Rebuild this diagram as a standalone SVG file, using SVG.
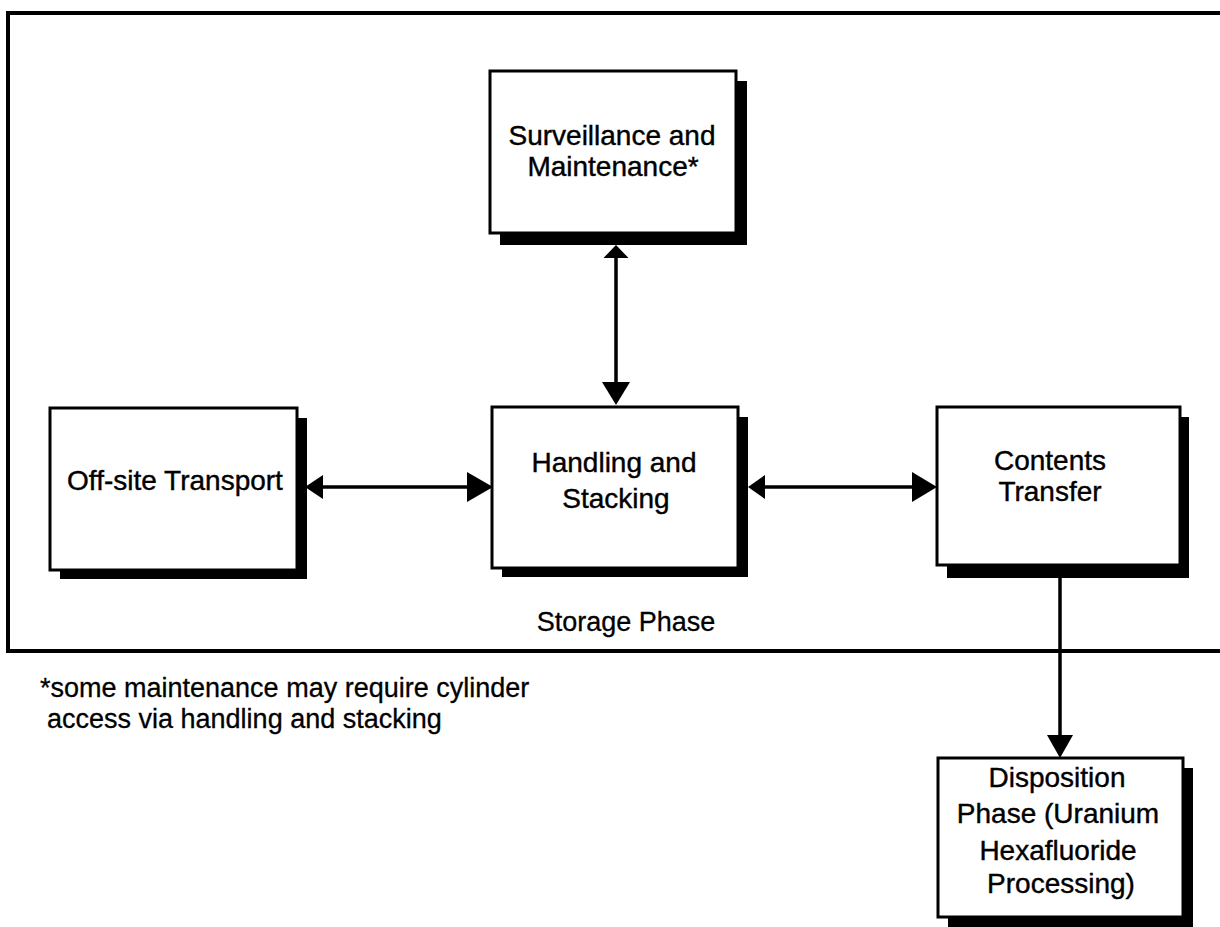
<svg xmlns="http://www.w3.org/2000/svg" width="1220" height="927" viewBox="0 0 1220 927">
  <style>
    .frame { fill: none; stroke: #000; stroke-width: 4; }
    .shadow { fill: #000; }
    .box { fill: #fff; stroke: #000; stroke-width: 3; }
    .label { font-family: "Liberation Sans", Arial, sans-serif; font-size: 28px; fill: #000; stroke: #000; stroke-width: 0.4; text-anchor: middle; }
    .note { font-family: "Liberation Sans", Arial, sans-serif; font-size: 27px; fill: #000; stroke: #000; stroke-width: 0.3; }
    .wire { stroke: #000; stroke-width: 3.5; fill: none; }
    .head { fill: #000; }
  </style>
  <rect width="1220" height="927" fill="#fff"/>

  <!-- storage phase boundary (open to the right) -->
  <path class="frame" d="M1224 13 H8 V651 H1224"/>
  <text class="note" x="626" y="631" text-anchor="middle">Storage Phase</text>

  <!-- connectors -->
  <g id="connectors">
    <!-- surveillance <-> handling -->
    <line class="wire" x1="616" y1="256" x2="616" y2="384"/>
    <polygon class="head" points="616,245 603.5,258 628.5,258"/>
    <polygon class="head" points="616,405 602,382 630,382"/>
    <!-- off-site transport <-> handling -->
    <line class="wire" x1="320" y1="487" x2="470" y2="487"/>
    <polygon class="head" points="305,487 323,475 323,499"/>
    <polygon class="head" points="493,487 467,472 467,502"/>
    <!-- handling <-> contents transfer -->
    <line class="wire" x1="762" y1="487" x2="915" y2="487"/>
    <polygon class="head" points="748,487 765,475 765,499"/>
    <polygon class="head" points="937,487 912,472 912,502"/>
    <!-- contents transfer -> disposition -->
    <line class="wire" x1="1060" y1="578" x2="1060" y2="738"/>
    <polygon class="head" points="1060,758 1047,735 1073,735"/>
  </g>

  <g id="surveillance">
    <rect class="shadow" x="500" y="81" width="247" height="164"/>
    <rect class="box" x="490" y="71" width="246" height="162"/>
    <text class="label" x="612" y="145">Surveillance and</text>
    <text class="label" x="613" y="176">Maintenance*</text>
  </g>

  <g id="offsite">
    <rect class="shadow" x="60" y="418" width="247" height="161"/>
    <rect class="box" x="50" y="408" width="247" height="162"/>
    <text class="label" x="175" y="490">Off-site Transport</text>
  </g>

  <g id="handling">
    <rect class="shadow" x="502" y="417" width="246" height="160"/>
    <rect class="box" x="492" y="407" width="246" height="161"/>
    <text class="label" x="614" y="472">Handling and</text>
    <text class="label" x="616" y="508">Stacking</text>
  </g>

  <g id="contents">
    <rect class="shadow" x="947" y="417" width="242" height="161"/>
    <rect class="box" x="937" y="407" width="243" height="158"/>
    <text class="label" x="1050" y="470">Contents</text>
    <text class="label" x="1050" y="501">Transfer</text>
  </g>

  <g id="disposition">
    <rect class="shadow" x="948" y="768" width="245" height="162"/>
    <rect class="box" x="938" y="758" width="245" height="159"/>
    <text class="label" x="1057" y="787">Disposition</text>
    <text class="label" x="1058" y="823">Phase (Uranium</text>
    <text class="label" x="1058" y="860">Hexafluoride</text>
    <text class="label" x="1061" y="893">Processing)</text>
  </g>

  <!-- footnote -->
  <text class="note" x="40" y="697">*some maintenance may require cylinder</text>
  <text class="note" x="47" y="728">access via handling and stacking</text>
</svg>
